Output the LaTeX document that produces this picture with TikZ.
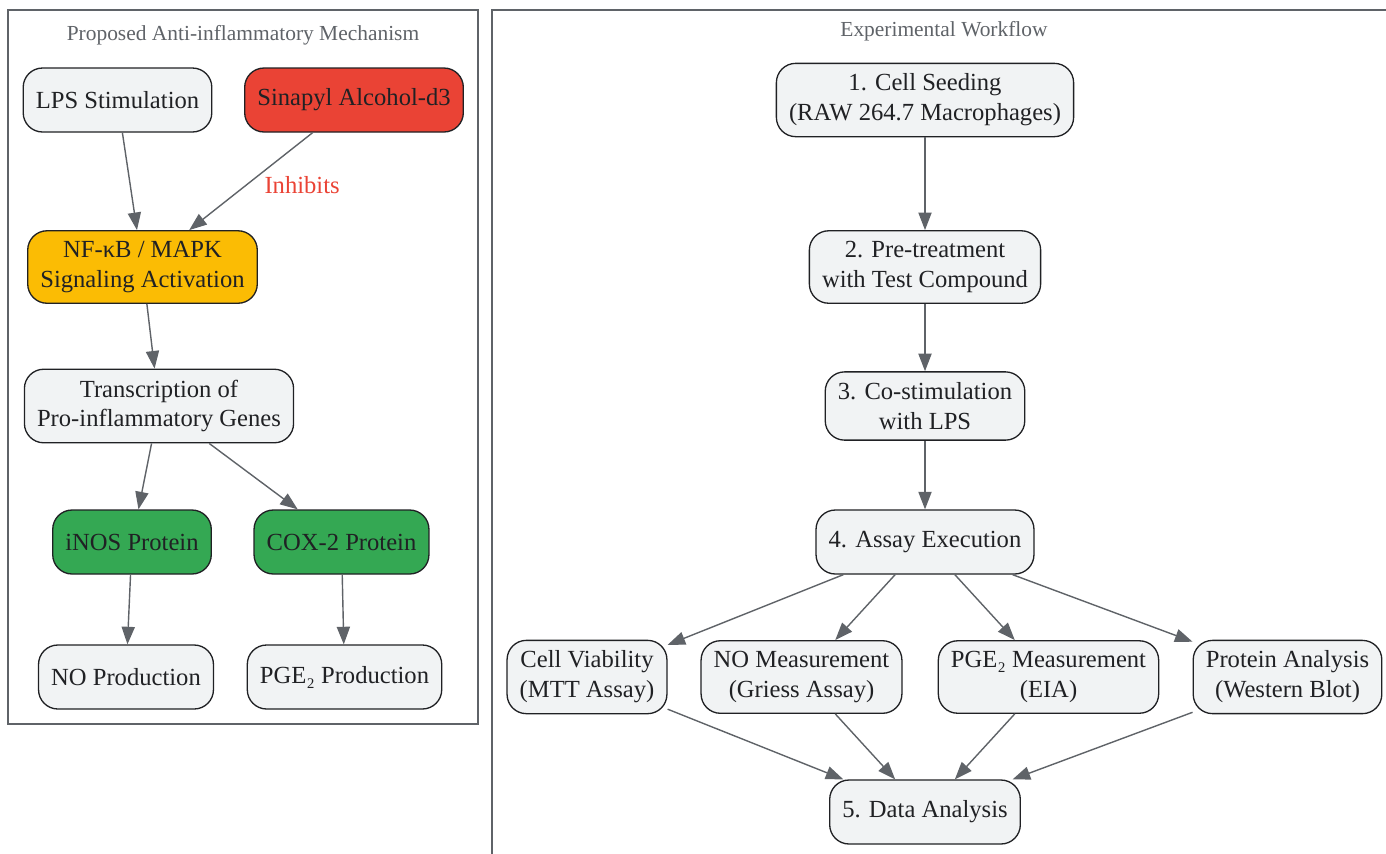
\documentclass[tikz,border=0pt]{standalone}
\usepackage{fontspec}
\setmainfont{Liberation Serif}
\usetikzlibrary{arrows.meta, positioning}

\definecolor{edgegray}{HTML}{5F6368}
\definecolor{nodegray}{HTML}{F1F3F4}
\definecolor{inkdark}{HTML}{202124}
\definecolor{alertred}{HTML}{EA4335}
\definecolor{signalyellow}{HTML}{FBBC04}
\definecolor{proteingreen}{HTML}{34A853}

\begin{document}
\begin{tikzpicture}[x=0.02cm, y=-0.02cm,
  box/.style={draw=inkdark, line width=0.75pt, rounded corners=11pt, fill=nodegray,
    text=inkdark, align=center, font=\fontsize{14}{17}\selectfont,
    inner xsep=7.2pt, inner ysep=6pt, minimum height=1.28cm},
  cluster/.style={draw=edgegray, line width=0.75pt},
  title/.style={text=edgegray, font=\fontsize{12.2}{14}\selectfont},
  inhibit/.style={right, xshift=4pt, yshift=-2pt, text=alertred, font=\fontsize{14}{17}\selectfont},
  every edge/.style={draw=edgegray, line width=0.8pt},
  >={Triangle[length=10pt, width=7.5pt]}]
  \useasboundingbox (0,0) rectangle (1386,853);

  % clusters
  \draw[cluster] (8,10) rectangle (478,724);
  \draw[cluster] (492,10) rectangle (1400,880);
  \node[title] (mechtitle) at (243,35) {Proposed Anti-inflammatory Mechanism};
  \node[title] (flowtitle) at (944,31) {Experimental Workflow};

  % mechanism
  \node[box] (lps) at (117.5,100) {LPS Stimulation};
  \node[box, fill=alertred] (sinapyl) at (354,100) {Sinapyl Alcohol-d3};
  \node[box, fill=signalyellow] (nfkb) at (142.5,267) {NF-κB / MAPK\\Signaling Activation};
  \node[box] (transcr) at (159,406) {Transcription of\\Pro-inflammatory Genes};
  \node[box, fill=proteingreen] (inos) at (132,542) {iNOS Protein};
  \node[box, fill=proteingreen] (cox) at (341.5,542) {COX-2 Protein};
  \node[box] (noprod) at (126,677) {NO Production};
  \node[box] (pgeprod) at (344.5,677) {PGE₂ Production};

  % workflow
  \node[box] (seed) at (925,100) {1. Cell Seeding\\(RAW 264.7 Macrophages)};
  \node[box] (pretreat) at (925,267) {2. Pre-treatment\\with Test Compound};
  \node[box] (costim) at (925,406) {3. Co-stimulation\\with LPS};
  \node[box] (assay) at (925,542) {4. Assay Execution};
  \node[box] (viab) at (587,677) {Cell Viability\\(MTT Assay)};
  \node[box] (nomeas) at (801.5,677) {NO Measurement\\(Griess Assay)};
  \node[box] (pgemeas) at (1048.5,677) {PGE₂ Measurement\\(EIA)};
  \node[box] (protein) at (1287.5,677) {Protein Analysis\\(Western Blot)};
  \node[box] (analysis) at (925,812) {5. Data Analysis};

  \path[->]
    (lps) edge (nfkb)
    (sinapyl) edge node[inhibit] {Inhibits} (nfkb)
    (nfkb) edge (transcr)
    (transcr) edge (inos)
              edge (cox)
    (inos) edge (noprod)
    (cox) edge (pgeprod);

  \path[->]
    (seed) edge (pretreat)
    (pretreat) edge (costim)
    (costim) edge (assay)
    (assay) edge (viab)
            edge (nomeas)
            edge (pgemeas)
            edge (protein)
    (viab) edge (analysis)
    (nomeas) edge (analysis)
    (pgemeas) edge (analysis)
    (protein) edge (analysis);
\end{tikzpicture}
\end{document}
